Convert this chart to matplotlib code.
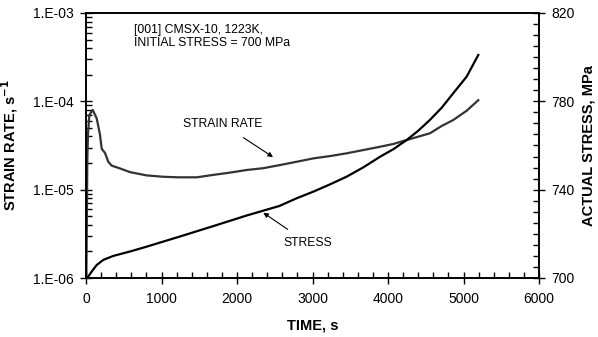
import numpy as np
import matplotlib
matplotlib.use('Agg')
import matplotlib.pyplot as plt
from matplotlib.ticker import FixedLocator, FuncFormatter, LogLocator, NullFormatter

plt.rcParams['font.family'] = ['Liberation Sans', 'DejaVu Sans']

# strain rate (time in s, rate in 1/s)
rate_t = [5, 17, 26, 44, 89, 142, 185, 208, 252, 295, 340, 450, 583, 804,
          1024, 1222, 1466, 1686, 1907, 2128, 2348, 2570, 2790, 3011, 3232,
          3453, 3673, 3894, 4070, 4248, 4401, 4556, 4711, 4865, 5042, 5196]
rate_v = [1.0e-6, 2.0e-5, 4.2e-5, 7.0e-5, 8.0e-5, 6.4e-5, 4.2e-5, 2.9e-5,
          2.6e-5, 2.07e-5, 1.87e-5, 1.74e-5, 1.58e-5, 1.45e-5, 1.40e-5,
          1.38e-5, 1.38e-5, 1.47e-5, 1.56e-5, 1.67e-5, 1.75e-5, 1.90e-5,
          2.07e-5, 2.26e-5, 2.40e-5, 2.58e-5, 2.81e-5, 3.06e-5, 3.29e-5,
          3.65e-5, 3.98e-5, 4.35e-5, 5.26e-5, 6.15e-5, 7.83e-5, 1.03e-4]

# actual stress (MPa)
stress_t = [17, 75, 142, 229, 362, 583, 804, 1245, 1686, 2128, 2560, 2790,
            3011, 3232, 3453, 3673, 3894, 4070, 4248, 4401, 4556, 4711, 4865,
            5042, 5196]
stress_v = [700.0, 702.9, 705.9, 708.2, 710.0, 712.0, 714.2, 718.8, 723.5,
            728.3, 732.6, 736.1, 739.1, 742.4, 745.9, 750.1, 754.9, 758.3,
            762.5, 766.7, 771.6, 777.1, 783.7, 791.2, 801.0]

fig = plt.figure(figsize=(5.98, 3.37), dpi=100)
ax = fig.add_axes([86 / 598, 1 - 278 / 337, 453 / 598, 265 / 337])
ax2 = ax.twinx()

ax.plot(rate_t, rate_v, color='#333333', lw=1.6)
ax2.plot(stress_t, stress_v, color='black', lw=1.6)

ax.set_xlim(0, 6000)
ax.set_yscale('log')
ax.set_ylim(1e-6, 1e-3)
ax2.set_ylim(700, 820)

ax.set_xticks(range(0, 6001, 1000))
ax.xaxis.set_minor_locator(FixedLocator(range(0, 6001, 200)))
ax.yaxis.set_major_locator(FixedLocator([1e-6, 1e-5, 1e-4, 1e-3]))
ax.yaxis.set_minor_locator(LogLocator(base=10, subs=range(2, 10)))
ax.yaxis.set_minor_formatter(NullFormatter())
ax.yaxis.set_major_formatter(
    FuncFormatter(lambda v, p: f"1.E{int(round(np.log10(v))):03d}"))
ax2.set_yticks([700, 740, 780, 820])
ax2.yaxis.set_minor_locator(FixedLocator(range(700, 821, 5)))

for a in (ax, ax2):
    a.tick_params(which='major', direction='inout', length=8, width=1,
                  labelsize=10, pad=5)
    a.tick_params(which='minor', direction='in', length=4, width=1)
    for s in a.spines.values():
        s.set_linewidth(1.2)
ax.tick_params(axis='x', which='major', pad=6)

ax.set_xlabel('TIME, s', fontsize=10.5, fontweight='bold')
ax.set_ylabel(r'STRAIN RATE, s$^{\mathbf{-1}}$', fontsize=10.5,
              fontweight='bold')
ax2.set_ylabel('ACTUAL STRESS, MPa', fontsize=10.5, fontweight='bold')
ax.xaxis.set_label_coords(0.5, -0.152)
ax.yaxis.set_label_coords(-0.146, 0.5)
ax2.yaxis.set_label_coords(1.094, 0.5)

ax.text(0.106, 0.957, '[001] CMSX-10, 1223K,\nINITIAL STRESS = 700 MPa',
        transform=ax.transAxes, fontsize=8.8, va='top', ha='left',
        linespacing=1.05)
ax.annotate('STRAIN RATE', xy=(2477, 2.34e-5), xytext=(1815, 5.5e-5),
            fontsize=8.7, ha='center', va='center',
            arrowprops=dict(arrowstyle='-|>', color='black', lw=0.8,
                            shrinkA=6, shrinkB=0, mutation_scale=7))
ax.annotate('STRESS', xy=(2348, 5.48e-6), xytext=(2934, 2.5e-6),
            fontsize=8.7, ha='center', va='center',
            arrowprops=dict(arrowstyle='-|>', color='black', lw=0.8,
                            shrinkA=6, shrinkB=0, mutation_scale=7))

fig.savefig('out.png', dpi=100)
